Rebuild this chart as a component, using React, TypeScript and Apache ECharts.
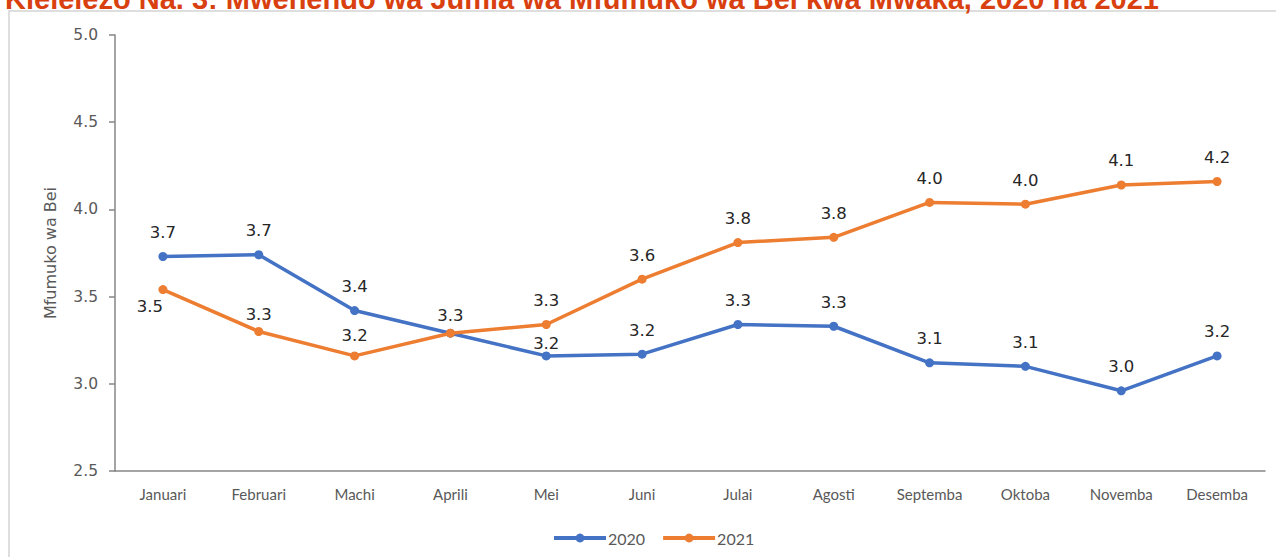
import React, { useEffect, useRef } from "react";
import * as echarts from "echarts";

const months = ["Januari", "Februari", "Machi", "Aprili", "Mei", "Juni", "Julai", "Agosti", "Septemba", "Oktoba", "Novemba", "Desemba"];
const series2020 = [3.73, 3.74, 3.42, 3.29, 3.16, 3.17, 3.34, 3.33, 3.12, 3.1, 2.96, 3.16];
const series2021 = [3.54, 3.3, 3.16, 3.29, 3.34, 3.6, 3.81, 3.84, 4.04, 4.03, 4.14, 4.16];
const yTicks = [2.5, 3.0, 3.5, 4.0, 4.5, 5.0];
const titleText = "Kielelezo Na. 3: Mwenendo wa Jumla wa Mfumuko wa Bei kwa Mwaka, 2020 na 2021";
const yName = "Mfumuko wa Bei";

export default function App() {
  const ref = useRef<HTMLDivElement>(null);
  useEffect(() => {
    document.body.style.margin = "0";
    if (!ref.current) return;
    const chart = echarts.init(ref.current, null, { renderer: "svg" });

    const labelOffsets2020: Record<number, any> = { 3: { show: false }, 4: { offset: [0, 12] } };
    const labelOffsets2021: Record<number, any> = {
      0: { position: "bottom", offset: [-13, -7] },
      1: { offset: [0, 7] },
      2: { offset: [0, 4] },
      3: { offset: [0, 6] },
    };

    const mk = (vals: number[], offs: Record<number, any>) =>
      vals.map((v, i) => {
        const item: any = { value: v };
        if (offs[i]) item.label = offs[i];
        return item;
      });

    const labelStyle = {
      show: true,
      position: "top",
      distance: 11,
      fontFamily: "DejaVu Sans",
      fontSize: 16.5,
      color: "#262626",
      formatter: (p: any) => Number(p.value).toFixed(1),
    };

    chart.setOption({
      animation: false,
      backgroundColor: "#ffffff",
      graphic: [
        {
          type: "rect",
          shape: { x: 9, y: 11, width: 1400, height: 700 },
          style: { fill: "none", stroke: "#d4d4d4", lineWidth: 1.5 },
          z: -1,
        },
        {
          type: "text",
          left: 5,
          top: -16,
          style: {
            text: titleText,
            fontFamily: "Liberation Sans",
            fontWeight: "bold",
            fontSize: 29,
            fill: "#D9400F",
          },
        },
      ],
      legend: {
        left: 547,
        top: 525,
        itemWidth: 52,
        itemHeight: 11,
        itemGap: 16,
        lineStyle: { width: 4 },
        textStyle: { fontFamily: "Lato", fontSize: 16, color: "#595959", padding: [0, 0, 0, -3] },
        data: ["2020", "2021"],
      },
      grid: { left: 115, right: 11, top: 35, bottom: 86, containLabel: false },
      xAxis: {
        type: "category",
        data: months,
        boundaryGap: true,
        axisLine: { lineStyle: { color: "#868686", width: 1.5 } },
        axisTick: { show: false },
        axisLabel: { fontFamily: "Lato", fontSize: 15, color: "#595959", margin: 15 },
      },
      yAxis: {
        type: "value",
        min: yTicks[0],
        max: yTicks[yTicks.length - 1],
        interval: 0.5,
        name: yName,
        nameLocation: "middle",
        nameGap: 57,
        nameTextStyle: { fontFamily: "DejaVu Sans", fontSize: 16, color: "#595959" },
        axisLine: { show: true, lineStyle: { color: "#868686", width: 1.5 } },
        axisTick: { show: true, length: 6, lineStyle: { color: "#868686", width: 1.5 } },
        splitLine: { show: false },
        axisLabel: {
          fontFamily: "DejaVu Sans",
          fontSize: 15.5,
          color: "#595959",
          margin: 17,
          formatter: (v: number) => v.toFixed(1),
        },
      },
      series: [
        {
          name: "2020",
          type: "line",
          data: mk(series2020, labelOffsets2020),
          color: "#4472C4",
          lineStyle: { width: 3.5, color: "#4472C4" },
          symbol: "circle",
          symbolSize: 9,
          itemStyle: { color: "#4472C4" },
          label: labelStyle,
          z: 2,
        },
        {
          name: "2021",
          type: "line",
          data: mk(series2021, labelOffsets2021),
          color: "#ED7D31",
          lineStyle: { width: 3.5, color: "#ED7D31" },
          symbol: "circle",
          symbolSize: 9,
          itemStyle: { color: "#ED7D31" },
          label: labelStyle,
          z: 3,
        },
      ],
    });
    return () => chart.dispose();
  }, []);
  return <div ref={ref} style={{ width: 1276, height: 557 }} />;
}
